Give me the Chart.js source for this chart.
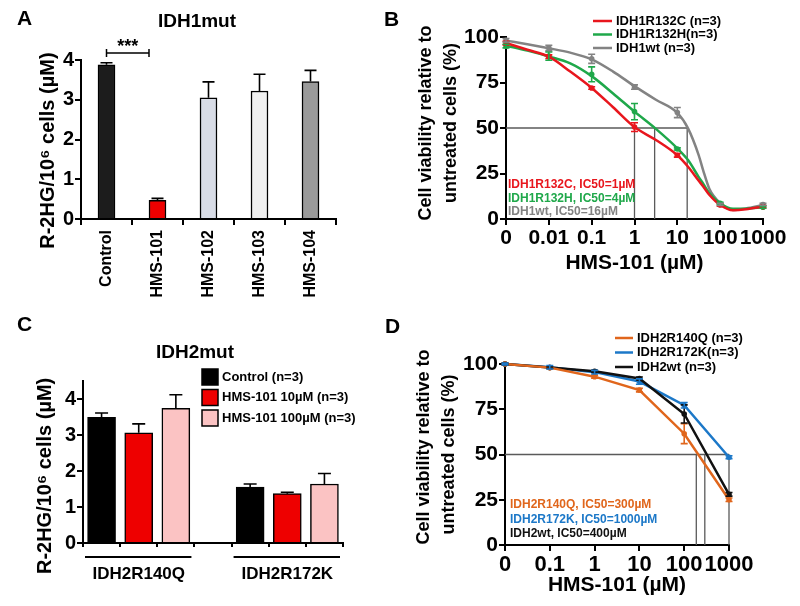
<!DOCTYPE html>
<html>
<head>
<meta charset="utf-8">
<script src="https://cdn.jsdelivr.net/npm/chart.js@4.4.1/dist/chart.umd.min.js"></script>
<style>
  html, body { margin: 0; padding: 0; background: #fff; }
  #wrap { position: relative; width: 800px; height: 606px; overflow: hidden; background: #fff; }
  #wrap canvas { position: absolute; }
</style>
</head>
<body>
<div id="wrap">
  <canvas id="chart-a"></canvas>
  <canvas id="chart-b"></canvas>
  <canvas id="chart-c"></canvas>
  <canvas id="chart-d"></canvas>
</div>
<script>
// ---------- data: panel A (IDH1mut, R-2HG) ----------
const compoundsA = ['Control', 'HMS-101', 'HMS-102', 'HMS-103', 'HMS-104'];
const r2hgA = [3.88, 0.47, 3.05, 3.22, 3.46];
const r2hgErrA = [0.05, 0.05, 0.40, 0.42, 0.28];

// ---------- data: panel B (IDH1 viability) ----------
const doseLabelsB = ['0', '0.01', '0.1', '1', '10', '100', '1000'];
const seriesB = ['IDH1R132C (n=3)', 'IDH1R132H(n=3)', 'IDH1wt (n=3)'];
const notesB = ['IDH1R132C, IC50=1µM', 'IDH1R132H, IC50=4µM', 'IDH1wt, IC50=16µM'];
const r132cB = [96.7, 89.2, 72.0, 50.5, 35.0, 7.7, 6.8];
const r132hB = [95.0, 89.5, 79.5, 59.0, 38.5, 8.6, 6.5];
const wt1B = [98.2, 94.0, 88.0, 72.5, 58.5, 8.0, 8.0];
const r132cErrB = [1.0, 1.0, 0.7, 2.4, 1.0, 0.6, 0.6];
const r132hErrB = [1.0, 2.3, 4.1, 4.5, 0.6, 0.6, 0.6];
const wt1ErrB = [1.0, 1.5, 2.5, 1.2, 2.8, 0.6, 0.6];
// fitted curves (x in dose-tick units)
const curveXB = [0, 0.5, 1, 1.5, 2, 2.5, 3, 3.5, 4, 4.25, 4.5, 4.6, 4.75, 5, 5.3, 5.6, 6];
const r132cCurveB = [96.7, 93, 89.2, 81, 72, 61.4, 50.5, 43.4, 35, 28.7, 21, 18, 13.2, 7.7, 4.8, 5.3, 6.8];
const r132hCurveB = [95.2, 92.5, 89.3, 85.5, 78.5, 69, 59, 49.5, 38.8, 32.4, 23, 19.5, 14.1, 8.6, 5.6, 5.7, 6.5];
const wt1CurveB = [98, 96, 93.8, 91.4, 87.7, 81, 73, 65.5, 58.3, 49.8, 35, 27, 16.5, 8.8, 5, 5.8, 7.7];
const ic50B = [3, 3.47, 4.23];

// ---------- data: panel C (IDH2mut, R-2HG) ----------
const groupsC = ['IDH2R140Q', 'IDH2R172K'];
const treatmentsC = ['Control (n=3)', 'HMS-101 10µM (n=3)', 'HMS-101 100µM (n=3)'];
const controlC = [3.49, 1.55];
const hms10C = [3.06, 1.37];
const hms100C = [3.74, 1.64];
const controlErrC = [0.12, 0.09];
const hms10ErrC = [0.25, 0.04];
const hms100ErrC = [0.38, 0.29];

// ---------- data: panel D (IDH2 viability) ----------
const doseLabelsD = ['0', '0.1', '1', '10', '100', '1000'];
const seriesD = ['IDH2R140Q (n=3)', 'IDH2R172K(n=3)', 'IDH2wt (n=3)'];
const notesD = ['IDH2R140Q, IC50=300µM', 'IDH2R172K, IC50=1000µM', 'IDH2wt, IC50=400µM'];
const r140qD = [100, 98, 93, 85.6, 61.5, 25];
const r172kD = [100, 98.2, 95.5, 90.3, 77.2, 48.5];
const wt2D = [100, 98, 96, 92, 72.4, 28];
const r140qErrD = [0.5, 0.5, 0.8, 1, 5.5, 1];
const r172kErrD = [0.5, 1, 1, 1.5, 1.5, 0.8];
const wt2ErrD = [0.5, 0.5, 0.5, 0.8, 5, 1];
const ic50D = [4.27, 4.46, 5];

// ---------- styles ----------
const FONT = "'Liberation Sans', Arial, Helvetica, sans-serif";
const colorsA = ['#1c1c1c', '#ee0000', '#d8dce6', '#f0f0f0', '#9a9a9a'];
const colorsB = ['#e8161d', '#1fa84a', '#838383'];
const colorsC = ['#000000', '#ee0000', '#fbc3c3'];
const colorsD = ['#e0661c', '#1c78c8', '#111111'];
const refLine = '#5a5a5a';
const NB = '\u00A0';

function bold(size) { return `bold ${size}px ${FONT}`; }

// draws error bars from dataset.errors
const errorBars = {
    id: 'errorBars',
    afterDatasetsDraw(chart) {
        const ctx = chart.ctx;
        const ys = chart.scales.y;
        chart.data.datasets.forEach((ds, di) => {
            if (!ds.errors) return;
            const meta = chart.getDatasetMeta(di);
            ctx.save();
            ctx.strokeStyle = ds.errorColor || ds.borderColor;
            ctx.lineWidth = ds.errorWidth || 1.5;
            meta.data.forEach((el, i) => {
                const d = ds.data[i];
                const e = ds.errors[i];
                if (d == null || e == null) return;
                const v = typeof d === 'object' ? d.y : d;
                const hi = ys.getPixelForValue(v + e);
                const lo = ds.upOnly ? ys.getPixelForValue(v) : ys.getPixelForValue(v - e);
                const cw = ds.capWidth || 3;
                ctx.beginPath();
                ctx.moveTo(el.x, lo); ctx.lineTo(el.x, hi);
                ctx.moveTo(el.x - cw, hi); ctx.lineTo(el.x + cw, hi);
                if (!ds.upOnly) { ctx.moveTo(el.x - cw, lo); ctx.lineTo(el.x + cw, lo); }
                ctx.stroke();
            });
            ctx.restore();
        });
    }
};

// panel letters, titles, legends, notes, brackets
const figDeco = {
    id: 'figDeco',
    afterDraw(chart, args, o) {
        const ctx = chart.ctx;
        const [ox, oy] = o.origin;
        ctx.save();
        (o.texts || []).forEach(t => {
            ctx.font = t.font;
            ctx.fillStyle = t.color || '#000';
            ctx.textAlign = t.align || 'left';
            ctx.textBaseline = 'middle';
            ctx.fillText(t.text, t.x - ox, t.y - oy);
        });
        if (o.legend) {
            const L = o.legend;
            ctx.font = L.font;
            ctx.textAlign = 'left';
            ctx.textBaseline = 'middle';
            L.labels.forEach((lab, i) => {
                const y = L.ys[i] - oy;
                if (L.kind === 'line') {
                    ctx.strokeStyle = L.colors[i];
                    ctx.lineWidth = 2.5;
                    ctx.beginPath();
                    ctx.moveTo(L.x - ox, y); ctx.lineTo(L.x + L.len - ox, y);
                    ctx.stroke();
                } else {
                    ctx.fillStyle = L.colors[i];
                    ctx.fillRect(L.x - ox, y - L.h / 2, L.w, L.h);
                    ctx.strokeStyle = '#000';
                    ctx.lineWidth = 1.5;
                    ctx.strokeRect(L.x - ox, y - L.h / 2, L.w, L.h);
                }
                ctx.fillStyle = '#000';
                ctx.fillText(lab, L.textX - ox, y);
            });
        }
        if (o.bracket) {
            const B = o.bracket;
            const bars = chart.getDatasetMeta(0).data;
            const x1 = bars[B.from].x;
            const x2 = bars[B.to].x - bars[B.to].width / 2;
            const y = B.y - oy;
            ctx.strokeStyle = '#000';
            ctx.lineWidth = 1.5;
            ctx.beginPath();
            ctx.moveTo(x1, y); ctx.lineTo(x2, y);
            ctx.moveTo(x1, y - 4); ctx.lineTo(x1, y + 4);
            ctx.moveTo(x2, y - 4); ctx.lineTo(x2, y + 4);
            ctx.stroke();
            ctx.font = B.font;
            ctx.fillStyle = '#000';
            ctx.textAlign = 'center';
            ctx.textBaseline = 'alphabetic';
            ctx.fillText(B.label, (x1 + x2) / 2, B.labelY - oy);
        }
        if (o.groupLines) {
            const G = o.groupLines;
            const xs = chart.scales.x;
            const half = (xs.getPixelForValue(1) - xs.getPixelForValue(0)) / 2;
            ctx.strokeStyle = '#000';
            ctx.lineWidth = 2;
            G.spans.forEach(([a, b]) => {
                ctx.beginPath();
                ctx.moveTo(xs.getPixelForValue(a) - half + 2, G.y - oy);
                ctx.lineTo(xs.getPixelForValue(b) + half - 3, G.y - oy);
                ctx.stroke();
            });
        }
        ctx.restore();
    }
};

function setupCanvas(id, r) {
    const c = document.getElementById(id);
    c.width = r.x2 - r.x; c.height = r.y2 - r.y;
    c.style.left = r.x + 'px'; c.style.top = r.y + 'px';
    c.style.width = (r.x2 - r.x) + 'px'; c.style.height = (r.y2 - r.y) + 'px';
    return c;
}

// padding so the chart area lands on the given box (global coords)
function framePadding(r, area, yW, xH) {
    return {
        left: area.l - r.x - yW,
        top: area.t - r.y,
        right: r.x2 - area.r,
        bottom: r.y2 - area.b - xH
    };
}

function yAxis(o) {
    return {
        min: 0, max: o.max,
        ticks: { stepSize: o.step, color: '#000', font: { family: FONT, size: o.tickSize, weight: 'bold' }, padding: 1 },
        grid: { drawOnChartArea: false, drawTicks: true, tickLength: 6, color: '#000', lineWidth: 2 },
        border: { color: '#000', width: 2 },
        title: { display: true, text: o.title, color: '#000', padding: 0,
                 font: { family: FONT, size: o.titleSize, weight: 'bold', lineHeight: o.lh } },
        afterBuildTicks: s => {
            const t = [];
            for (let v = 0; v <= o.max + 1e-9; v += o.step) t.push({ value: v });
            s.ticks = t;
        },
        afterFit: s => { s.width = o.width; }
    };
}

function doseAxis(labels, height, tickSize) {
    return {
        type: 'linear', min: 0, max: labels.length - 1,
        ticks: { stepSize: 1, color: '#000', font: { family: FONT, size: tickSize, weight: 'bold' }, padding: 1,
                 minRotation: 0, maxRotation: 0, autoSkip: false, callback: v => labels[v] },
        grid: { drawOnChartArea: false, drawTicks: true, tickLength: 6, color: '#000', lineWidth: 2 },
        border: { color: '#000', width: 2 },
        title: { display: true, text: 'HMS-101 (µM)', color: '#000', padding: 0,
                 font: { family: FONT, size: 21, weight: 'bold', lineHeight: 1.2 } },
        afterFit: s => { s.height = height; }
    };
}

function curveSet(label, xs, ys, color) {
    return { type: 'line', label, data: xs.map((x, i) => ({ x, y: ys[i] })), borderColor: color,
             borderWidth: 2.5, pointRadius: 0, cubicInterpolationMode: 'monotone', clip: false, order: 2 };
}
function pointSet(label, vals, errs, color, tension) {
    return { type: 'line', label, data: vals.map((y, x) => ({ x, y })), borderColor: color, backgroundColor: color,
             borderWidth: tension === null ? 0 : 2.5, showLine: tension !== null, tension: tension || 0,
             pointRadius: 2.8, pointBorderWidth: 0, errors: errs, errorWidth: 1.6, capWidth: 3.5,
             clip: false, order: 1 };
}
function ic50Sets(xs) {
    const sets = [{ data: [{ x: 0, y: 50 }, { x: Math.max(...xs), y: 50 }] }];
    xs.forEach(x => sets.push({ data: [{ x, y: 50 }, { x, y: 0 }] }));
    return sets.map(s => Object.assign(s, { type: 'line', borderColor: refLine, borderWidth: 1.3,
                                            pointRadius: 0, clip: false, order: 3 }));
}

const baseOpts = { responsive: false, animation: false, events: [],
                   plugins: { legend: { display: false }, tooltip: { enabled: false } } };

// ---------- panel A ----------
(function () {
    const r = { x: 0, y: 0, x2: 370, y2: 300 };
    const area = { l: 81, t: 60, r: 336, b: 219 };
    new Chart(setupCanvas('chart-a', r), {
        type: 'bar',
        data: { labels: compoundsA,
                datasets: [{ data: r2hgA, backgroundColor: colorsA, borderColor: '#000', borderWidth: 1.5,
                             borderSkipped: 'bottom', barThickness: 17, errors: r2hgErrA, upOnly: true,
                             errorColor: '#000', errorWidth: 1.6, capWidth: 6 }] },
        options: Object.assign({}, baseOpts, {
            layout: { padding: framePadding(r, area, 45, 81) },
            scales: {
                x: { ticks: { color: '#000', font: { family: FONT, size: 16, weight: 'bold' }, minRotation: 90,
                              maxRotation: 90, autoSkip: false, padding: 5 },
                     grid: { drawOnChartArea: false, drawTicks: true, tickLength: 6, color: '#000', lineWidth: 2, offset: true },
                     border: { color: '#000', width: 2 },
                     afterFit: s => { s.height = 81; } },
                y: yAxis({ max: 4, step: 1, tickSize: 20, title: 'R-2HG/10⁶ cells (µM)' + NB.repeat(4),
                           titleSize: 20, lh: 1.2, width: 45 })
            },
            plugins: Object.assign({}, baseOpts.plugins, {
                figDeco: { origin: [r.x, r.y],
                    texts: [{ text: 'A', x: 17, y: 19, font: bold(21) },
                            { text: 'IDH1mut', x: 197, y: 22, font: bold(19), align: 'center' }],
                    bracket: { from: 0, to: 1, y: 53, label: '***', labelY: 52, font: bold(18) } }
            })
        }),
        plugins: [errorBars, figDeco]
    });
})();

// ---------- panel B ----------
(function () {
    const r = { x: 370, y: 0, x2: 800, y2: 300 };
    const area = { l: 506, t: 37, r: 763, b: 219 };
    const datasets = [
        curveSet(seriesB[0], curveXB, r132cCurveB, colorsB[0]),
        curveSet(seriesB[1], curveXB, r132hCurveB, colorsB[1]),
        curveSet(seriesB[2], curveXB, wt1CurveB, colorsB[2]),
        pointSet(seriesB[0], r132cB, r132cErrB, colorsB[0], null),
        pointSet(seriesB[1], r132hB, r132hErrB, colorsB[1], null),
        pointSet(seriesB[2], wt1B, wt1ErrB, colorsB[2], null)
    ].concat(ic50Sets(ic50B));
    new Chart(setupCanvas('chart-b', r), {
        type: 'line',
        data: { datasets },
        options: Object.assign({}, baseOpts, {
            layout: { padding: framePadding(r, area, 92.6, 56.6) },
            scales: {
                x: doseAxis(doseLabelsB, 56.6, 21),
                y: yAxis({ max: 100, step: 25, tickSize: 21,
                           title: [NB.repeat(2) + 'Cell viability relative to', NB.repeat(2) + 'untreated cells (%)'],
                           titleSize: 18, lh: 1.4, width: 92.6 })
            },
            plugins: Object.assign({}, baseOpts.plugins, {
                figDeco: { origin: [r.x, r.y],
                    texts: [{ text: 'B', x: 384, y: 20, font: bold(21) }].concat(
                        notesB.map((t, i) => ({ text: t, x: 508, y: 185 + i * 13.5, font: bold(12), color: colorsB[i] }))),
                    legend: { kind: 'line', x: 593, len: 19, textX: 616, ys: [21, 34.5, 48], font: bold(13),
                              labels: seriesB, colors: colorsB } }
            })
        }),
        plugins: [errorBars, figDeco]
    });
})();

// ---------- panel C ----------
(function () {
    const r = { x: 0, y: 300, x2: 370, y2: 606 };
    const area = { l: 83, t: 381, r: 343, b: 543 };
    const nSlots = groupsC.length * 4 - 1;
    const slots = Array.from({ length: nSlots }, (_, i) => String(i));
    const valuesC = [controlC, hms10C, hms100C];
    const errsC = [controlErrC, hms10ErrC, hms100ErrC];
    const datasets = treatmentsC.map((name, t) => {
        const data = slots.map(() => null);
        const errors = slots.map(() => null);
        groupsC.forEach((g, gi) => { data[gi * 4 + t] = valuesC[t][gi]; errors[gi * 4 + t] = errsC[t][gi]; });
        return { label: name, data, errors, backgroundColor: colorsC[t], borderColor: '#000', borderWidth: 1.5,
                 borderSkipped: 'bottom', barThickness: 28, grouped: false, skipNull: true, upOnly: true,
                 errorColor: '#000', errorWidth: 1.6, capWidth: 6.5 };
    });
    new Chart(setupCanvas('chart-c', r), {
        type: 'bar',
        data: { labels: slots, datasets },
        options: Object.assign({}, baseOpts, {
            layout: { padding: framePadding(r, area, 50, 50) },
            scales: {
                x: { ticks: { color: '#000', font: { family: FONT, size: 17, weight: 'bold' }, maxRotation: 0,
                              autoSkip: false, padding: 17,
                              callback: (v, i) => (i % 4 === 1 ? groupsC[(i - 1) / 4] : '') },
                     grid: { drawOnChartArea: false, drawTicks: true, tickLength: 4, color: '#000', lineWidth: 2, offset: true },
                     border: { color: '#000', width: 2 },
                     afterFit: s => { s.height = 50; } },
                y: Object.assign(yAxis({ max: 4.5, step: 1, tickSize: 20, title: 'R-2HG/10⁶ cells (µM)' + NB.repeat(5),
                                         titleSize: 20, lh: 1.2, width: 50 }), {
                    afterBuildTicks: s => { s.ticks = [0, 1, 2, 3, 4].map(v => ({ value: v })); } })
            },
            plugins: Object.assign({}, baseOpts.plugins, {
                figDeco: { origin: [r.x, r.y],
                    texts: [{ text: 'C', x: 17, y: 325, font: bold(21) },
                            { text: 'IDH2mut', x: 195, y: 353, font: bold(19), align: 'center' }],
                    legend: { kind: 'box', x: 202, w: 16, h: 16, textX: 222, ys: [377, 397.5, 418], font: bold(13),
                              labels: treatmentsC, colors: colorsC },
                    groupLines: { y: 557, spans: [[0, 2], [4, 6]] } }
            })
        }),
        plugins: [errorBars, figDeco]
    });
})();

// ---------- panel D ----------
(function () {
    const r = { x: 370, y: 300, x2: 800, y2: 606 };
    const area = { l: 505, t: 364, r: 729, b: 545 };
    const datasets = [
        pointSet(seriesD[0], r140qD, r140qErrD, colorsD[0], 0),
        pointSet(seriesD[2], wt2D, wt2ErrD, colorsD[2], 0),
        pointSet(seriesD[1], r172kD, r172kErrD, colorsD[1], 0)
    ].concat(ic50Sets(ic50D));
    new Chart(setupCanvas('chart-d', r), {
        type: 'line',
        data: { datasets },
        options: Object.assign({}, baseOpts, {
            layout: { padding: framePadding(r, area, 93.6, 52.6) },
            scales: {
                x: doseAxis(doseLabelsD, 52.6, 22),
                y: yAxis({ max: 100, step: 25, tickSize: 21,
                           title: [NB.repeat(3) + 'Cell viability relative to', 'untreated cells (%)'],
                           titleSize: 18, lh: 1.4, width: 93.6 })
            },
            plugins: Object.assign({}, baseOpts.plugins, {
                figDeco: { origin: [r.x, r.y],
                    texts: [{ text: 'D', x: 385, y: 327, font: bold(21) }].concat(
                        notesD.map((t, i) => ({ text: t, x: 510, y: 505 + i * 14.3, font: bold(12), color: colorsD[i] }))),
                    legend: { kind: 'line', x: 615, len: 18, textX: 637, ys: [338, 352.5, 367], font: bold(13),
                              labels: seriesD, colors: colorsD } }
            })
        }),
        plugins: [errorBars, figDeco]
    });
})();
</script>
</body>
</html>
